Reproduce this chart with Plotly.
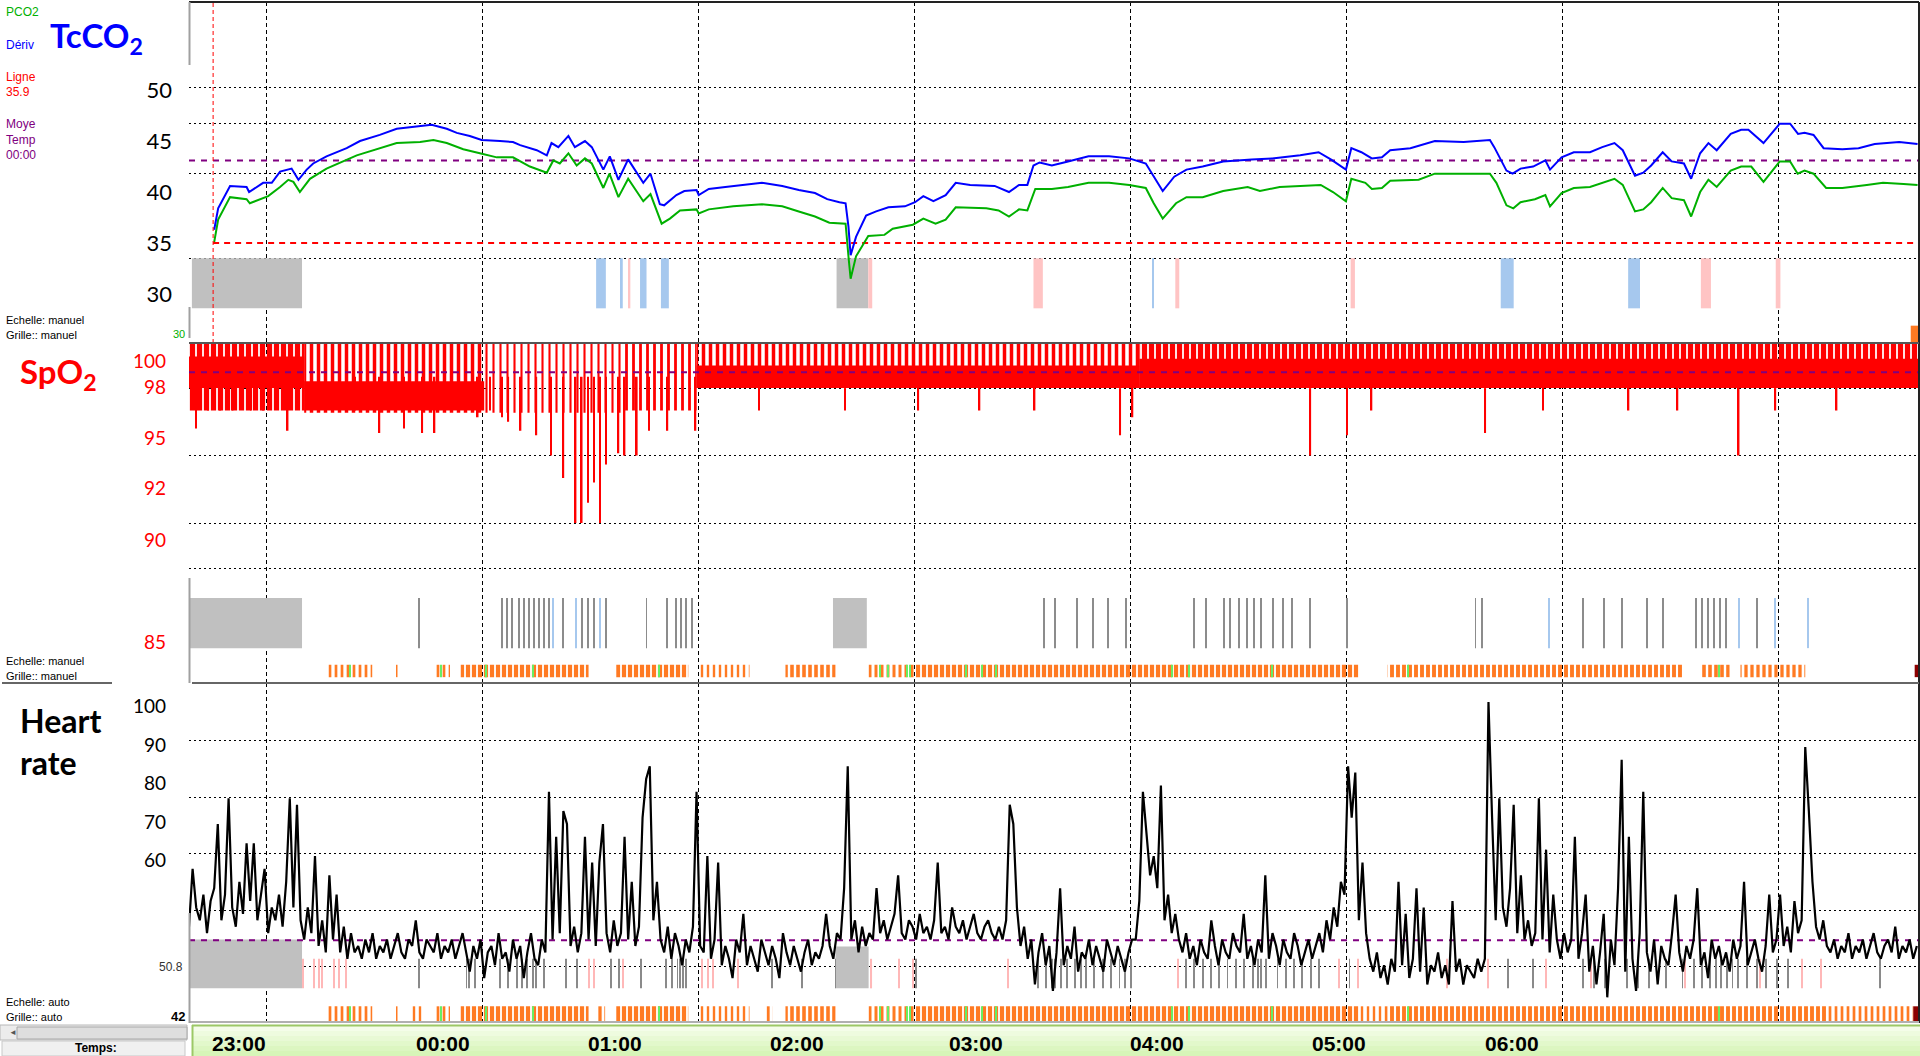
import pandas as pd
import plotly.graph_objects as go

START = pd.Timestamp('2020-01-01 22:38:20')
END_MIN = 480.6

# TcCO2 panel (mmHg), minutes since start of recording
tc_blue_min = [7.0, 8.1, 11.4, 16.0, 16.7, 20.6, 23.0, 25.3, 28.5, 30.4,
               32.7, 34.5, 38.2, 43.8, 47.5, 53.0, 57.7, 62.3, 67.4, 71.6,
               74.4, 78.0, 81.3, 86.4, 90.0, 92.0, 96.6, 99.4, 100.7, 102.6,
               105.4, 107.2, 110.0, 111.9, 115.1, 116.9, 119.3, 122.0, 126.2, 128.2,
               130.8, 132.0, 135.4, 137.6, 141.0, 141.6, 144.4, 149.0, 153.5, 159.2,
               164.8, 169.4, 173.9, 177.3, 180.7, 182.4, 183.2, 183.8, 185.3, 188.1,
               190.9, 194.3, 198.9, 201.7, 204.0, 206.8, 210.2, 213.0, 217.0, 223.8,
               227.8, 230.6, 232.9, 234.6, 236.3, 239.7, 244.2, 249.9, 255.6, 261.2,
               265.8, 268.0, 270.5, 273.7, 277.1, 281.6, 287.3, 295.2, 300.9, 308.7,
               313.8, 317.2, 320.0, 321.4, 322.9, 325.7, 328.6, 331.4, 333.7, 339.3,
               346.1, 354.1, 361.4, 362.6, 366.0, 367.7, 369.9, 373.4, 376.8, 378.1,
               381.3, 384.7, 389.2, 392.6, 396.0, 398.3, 401.7, 404.0, 406.2, 409.4,
               411.9, 415.3, 417.3, 419.8, 422.1, 424.4, 428.3, 431.2, 433.2, 437.4,
               441.9, 444.8, 447.0, 448.8, 451.3, 454.1, 459.3, 463.8, 468.3, 475.1,
               480.2]
tc_blue = [36.3, 38.4, 40.6, 40.5, 40.0, 40.9, 40.9, 42.0, 42.3, 41.2,
           42.2, 42.8, 43.5, 44.3, 45.0, 45.6, 46.2, 46.4, 46.6, 46.2,
           45.8, 45.5, 45.1, 45.0, 44.9, 44.6, 44.1, 43.6, 44.8, 44.4,
           45.5, 44.4, 45.0, 44.4, 42.2, 43.5, 41.2, 43.2, 40.9, 41.8,
           38.8, 38.7, 39.7, 40.1, 40.2, 39.7, 40.3, 40.5, 40.7, 40.9,
           40.6, 40.2, 39.9, 39.3, 39.0, 38.9, 36.6, 33.8, 35.6, 37.7,
           38.1, 38.5, 38.6, 39.0, 39.6, 39.1, 39.7, 40.9, 40.7, 40.6,
           40.0, 40.7, 40.7, 42.6, 42.9, 42.6, 43.0, 43.5, 43.5, 43.3,
           42.8, 41.5, 40.1, 41.5, 42.2, 42.5, 43.0, 43.2, 43.3, 43.6,
           43.9, 43.2, 42.5, 42.2, 44.3, 43.9, 43.3, 43.4, 44.1, 44.3,
           45.0, 44.9, 45.1, 44.4, 42.1, 41.8, 42.3, 42.5, 43.1, 42.2,
           43.4, 43.9, 43.9, 44.4, 44.8, 44.1, 41.6, 41.9, 42.6, 43.9,
           43.0, 42.8, 41.3, 43.8, 44.8, 44.1, 45.7, 46.1, 46.1, 44.8,
           46.7, 46.7, 45.7, 45.8, 45.6, 44.3, 44.2, 44.3, 44.7, 44.9,
           44.7]
tc_green_min = [7.0, 8.1, 11.4, 16.0, 16.9, 22.0, 25.3, 27.6, 29.0, 30.8,
                33.6, 38.2, 46.6, 53.0, 57.7, 64.2, 67.9, 71.6, 76.2, 80.8,
                85.5, 90.0, 94.7, 99.4, 101.2, 103.0, 105.4, 107.7, 110.0, 111.9,
                115.1, 116.8, 119.3, 122.0, 126.2, 128.2, 131.3, 133.6, 136.4, 141.0,
                141.6, 144.4, 151.2, 159.2, 164.8, 169.4, 173.9, 177.9, 182.4, 183.2,
                183.8, 185.3, 188.7, 193.2, 195.5, 201.1, 204.0, 207.4, 210.2, 213.0,
                221.5, 224.9, 227.8, 230.6, 232.9, 235.1, 239.7, 244.2, 249.9, 255.6,
                261.2, 265.8, 268.0, 270.5, 274.2, 277.1, 281.6, 287.3, 294.1, 297.5,
                303.0, 314.4, 317.8, 321.4, 322.9, 326.8, 328.6, 331.4, 333.7, 341.6,
                346.1, 361.4, 363.2, 366.0, 367.9, 369.9, 373.9, 376.8, 378.1, 381.3,
                384.7, 389.2, 392.6, 396.0, 398.3, 401.7, 404.0, 406.2, 409.4, 411.9,
                415.3, 417.3, 419.8, 422.1, 424.4, 428.3, 431.2, 434.0, 437.4, 441.9,
                444.8, 446.9, 448.8, 451.3, 454.8, 459.3, 466.1, 470.6, 476.3, 480.2]
tc_green = [35.1, 37.3, 39.5, 39.3, 38.9, 39.6, 40.5, 41.2, 41.0, 40.0,
            41.3, 42.3, 43.6, 44.3, 44.8, 44.9, 45.1, 44.8, 44.2, 43.8,
            43.4, 43.4, 42.5, 41.9, 43.1, 42.8, 43.8, 42.6, 43.3, 42.8,
            40.4, 41.8, 39.5, 41.3, 39.1, 39.8, 36.9, 37.4, 38.2, 38.3,
            37.9, 38.3, 38.6, 38.8, 38.6, 38.1, 37.6, 37.0, 36.9, 33.7,
            31.5, 33.7, 35.7, 35.8, 36.4, 36.8, 37.4, 36.9, 37.3, 38.5,
            38.4, 38.2, 37.6, 38.3, 38.2, 40.3, 40.3, 40.5, 40.9, 40.9,
            40.7, 40.4, 38.9, 37.4, 38.9, 39.5, 39.5, 40.1, 40.5, 40.1,
            40.5, 40.7, 40.0, 39.1, 41.3, 40.9, 40.3, 40.4, 41.1, 41.2,
            41.8, 41.8, 40.9, 38.7, 38.4, 39.0, 39.3, 39.7, 38.6, 39.9,
            40.4, 40.5, 40.9, 41.3, 40.7, 38.1, 38.3, 39.0, 40.4, 39.4,
            39.2, 37.6, 40.0, 41.2, 40.5, 42.1, 42.5, 42.5, 41.0, 43.0,
            43.0, 41.8, 42.1, 41.8, 40.4, 40.4, 40.7, 40.9, 40.8, 40.7]
tc_line = 35.0
tc_mean = 43.1
tc_start_min = 6.7
tc_ticks = [30, 35, 40, 45, 50]
tc_grid = [33.53, 41.86, 46.76, 50.2]

# TcCO2 event strip
tc_evt_start = [0.8, 113.1, 120.0, 122.2, 125.3, 131.1, 179.9, 188.7, 234.6, 267.6, 274.0, 322.7, 364.4, 399.8, 420.0, 440.8]
tc_evt_end = [31.4, 115.8, 120.5, 122.6, 127.1, 133.3, 188.7, 189.8, 237.2, 268.0, 275.1, 323.9, 368.0, 403.1, 422.8, 442.1]
tc_evt_kind = ['gris', 'bleu', 'bleu', 'rose', 'bleu', 'bleu', 'gris', 'rose', 'rose', 'bleu', 'rose', 'rose', 'bleu', 'bleu', 'rose', 'rose']

# SpO2 panel (%): envelope per segment, solid core + striped upper part
spo2_seg_start = [0.0, 32.0, 82.0, 121.0, 141.0, 264.0]
spo2_seg_end = [32.0, 82.0, 121.0, 141.0, 264.0, 480.6]
spo2_core_lo = [98.0, 97.0, 97.0, 98.0, 98.0, 98.0]
spo2_core_hi = [99.4, 98.3, 97.0, 98.0, 99.0, 99.3]
spo2_stripe_lo = [97.0, 96.9, 96.9, 97.0, 98.0, 98.0]
spo2_stripe_hi = [100.0, 100.0, 100.0, 100.0, 100.0, 100.0]
spo2_stripe_fill = [0.75, 0.5, 0.3, 0.4, 0.5, 0.75]
spo2_dip_min = [1.9, 5.3, 8.7, 12.1, 17.2, 20.6, 27.4, 46.1, 52.9, 59.7,
                64.8, 68.2, 76.8, 80.2, 83.6, 87.0, 88.7, 92.1, 96.5, 100.6,
                104.0, 107.4, 109.1, 110.8, 112.5, 114.2, 115.9, 119.3, 121.0, 124.4,
                127.8, 132.9, 140.7, 158.4, 182.2, 202.6, 219.6, 234.9, 258.7, 262.1,
                311.5, 321.7, 328.5, 360.1, 376.1, 399.9, 413.5, 430.5, 440.7, 457.7]
spo2_dip = [96.2, 97.0, 97.0, 97.0, 97.0, 97.0, 96.1, 97.0, 96.0, 96.2,
            96.0, 96.0, 97.0, 96.7, 97.0, 96.7, 96.5, 96.1, 95.9, 95.0,
            94.0, 92.0, 92.0, 92.9, 93.8, 92.0, 94.6, 95.1, 95.0, 95.0,
            96.1, 96.1, 96.1, 97.0, 97.0, 97.0, 97.0, 97.0, 95.9, 96.7,
            95.0, 95.9, 97.0, 96.0, 97.0, 97.0, 97.0, 95.0, 97.0, 97.0]
spo2_mean = 98.7
spo2_tick_pos = [99.2, 98.04, 95.78, 93.56, 91.24, 86.7]
spo2_tick_text = ['100', '98', '95', '92', '90', '85']
spo2_grid = [98, 95, 92, 90]

# SpO2 event strip
spo2_gap_start = [0.0, 178.9]
spo2_gap_end = [31.4, 188.3]
spo2_mark_gray = [63.8, 87.0, 88.3, 89.7, 91.7, 93.1, 94.4, 95.8, 97.2, 98.5, 99.9, 104.0, 109.1, 110.8, 112.5,
                  115.9, 127.1, 132.9, 135.3, 136.6, 138.0, 139.7, 237.6, 240.7, 246.8, 251.2, 255.3, 260.4,
                  279.1, 282.5, 287.6, 289.3, 291.7, 293.8, 295.8, 297.8, 301.2, 304.0, 306.3, 311.4, 321.7,
                  357.4, 359.1, 387.3, 393.1, 398.2, 405.0, 409.4, 418.6, 420.3, 422.0, 423.7, 425.4, 427.1, 435.6]
spo2_mark_blue = [101.2, 107.4, 114.2, 377.8, 430.5, 440.7, 449.9]
spo2_run_start = [38.7, 57.5, 68.5, 75.5, 118.7, 141.5, 165.7, 188.8, 201.9, 239.2, 333.0, 420.0, 431.0]
spo2_run_end = [50.9, 58.2, 72.5, 111.0, 138.7, 155.7, 179.6, 201.9, 239.2, 325.0, 415.0, 428.0, 449.0]
spo2_run_fill = [0.45, 0.5, 0.45, 0.7, 0.7, 0.4, 0.6, 0.5, 0.7, 0.7, 0.65, 0.6, 0.55]

# Heart rate (bpm), one value per minute
hr_bpm = [
    57, 66, 60, 58, 62, 56, 61, 63, 73, 58, 62, 77, 60, 57, 64, 59, 70, 61, 70, 58,
    62, 66, 56, 60, 58, 62, 57, 64, 77, 60, 76,
    58, 55, 60, 56, 68, 54, 58, 53, 65, 55, 62, 53, 57, 52, 56, 53,
    54, 52, 55, 53, 56, 52, 54, 53, 55, 52, 54, 56, 53, 52, 55, 54, 58, 53, 52, 55,
    54, 53, 56, 52, 54, 53, 55, 52, 54, 56, 53,
    50, 54, 52, 55, 49, 53, 54, 51, 56, 52, 53, 50, 55, 52, 54, 49, 53, 56, 52, 51, 55, 53,
    78, 55, 71, 56, 75, 73, 54, 57, 53, 56, 71, 55, 67, 54, 67, 73, 56, 53, 58, 54,
    56, 71, 55, 64, 54, 57, 74, 80, 82, 58, 64,
    55, 53, 57, 52, 56, 54, 51, 55, 53, 57, 78, 54,
    53, 68, 52, 55, 67, 51, 54, 52, 49, 55, 53, 59, 51, 54, 52, 50, 55, 53, 51, 54,
    52, 49, 56, 53, 51, 54, 52, 50, 53, 55, 51, 53, 52, 54,
    59, 54, 52, 56, 55, 63, 82, 55, 58, 53, 57, 54, 56, 55,
    63, 56, 58, 55, 57, 59, 65, 56, 55, 58, 57, 55, 59, 56, 57, 55, 58, 67, 56, 57,
    55, 60, 57, 56, 58, 55, 57, 59, 56, 55, 57, 58, 56, 55, 57,
    55, 58, 76, 73, 60, 54, 57, 52, 55, 48, 53, 56, 51, 54, 47, 53, 63,
    51, 54, 52, 57, 50, 53, 52, 55, 51, 54, 52, 50, 55, 53, 51, 54, 52, 50, 53, 55,
    55, 61, 78, 72, 65, 68, 63, 79, 58, 62, 56, 59, 55,
    53, 56, 52, 54, 51, 55, 53, 52, 58, 54, 51, 55, 53, 52, 56, 54, 53, 59, 52, 54,
    51, 55, 53, 65, 52, 56, 54, 51, 55, 53, 52, 56, 54, 51, 53, 55, 52, 54, 56, 53,
    58, 55, 60, 57, 64, 62, 82, 74, 81, 58, 67,
    56, 52, 50, 53, 49, 51, 48, 52, 50, 64, 51, 59, 49, 52, 63, 50, 60, 48, 51, 50,
    53, 49, 51, 48, 61, 50, 52, 48, 51, 50, 49, 52, 50,
    52, 92, 74, 58, 77, 60, 57, 63, 76, 56, 65, 55, 58,
    54, 56, 77, 55, 69, 53, 62, 55, 52, 56, 53,
    55, 71, 52, 56, 62, 50, 54, 48, 53, 59, 46, 55, 51, 63, 83, 50, 71, 52, 47, 56,
    78, 53, 50, 55, 48, 54, 52, 51, 56, 62, 53, 50, 54, 52, 55, 63, 51, 53, 49, 55,
    52, 54, 51, 53, 50, 55, 52, 54, 64, 51, 53, 55, 52, 50, 54, 62, 53,
    55, 62, 54, 57, 53, 61, 56, 58, 85, 75, 64, 57, 55, 58, 54,
    53, 55, 52, 54, 53, 56, 52, 54, 53, 55, 52, 54, 56, 53, 52, 54, 55, 53, 57, 52,
    54, 53, 55, 52, 54,
]
hr_mean = 54.9
hr_tick_pos = [91.4, 85.3, 79.4, 73.3, 67.4]
hr_tick_text = ['100', '90', '80', '70', '60']
hr_grid = [50.8, 59.6, 68.4, 77.2, 86.0]

# Heart rate event strip
hr_gap_start = [0.0, 179.6]
hr_gap_end = [31.4, 188.8]
hr_gap_top = [55.0, 53.9]
hr_art_gray = [64.0, 77.1, 77.8, 79.4, 86.3, 88.6, 91.0, 92.5, 94.0, 95.6, 96.3, 98.7, 104.8, 107.9, 117.2,
               119.5, 125.6, 132.6, 134.1, 135.7, 136.4, 137.2, 138.0, 161.9, 170.3, 179.6, 201.9, 235.9,
               238.2, 239.7, 240.7, 242.3, 243.8, 246.1, 247.7, 249.2, 251.5, 253.8, 256.2, 258.5, 260.0,
               261.6, 277.0, 279.3, 281.6, 283.9, 286.2, 288.5, 290.8, 293.2, 295.5, 297.0, 297.8, 299.3,
               302.4, 304.7, 307.0, 309.3, 311.7, 314.0, 322.4, 366.4, 373.3, 387.2, 390.3, 393.4, 399.5,
               402.6, 405.7, 410.3, 414.9, 418.0, 420.3, 422.6, 424.2, 425.7, 427.3, 428.8, 430.4, 432.7,
               435.7, 438.1, 441.1, 444.2, 469.7]
hr_art_pink = [31.6, 34.7, 36.2, 37.0, 40.4, 41.6, 43.5, 111.0, 112.5, 120.5, 142.6, 144.1, 145.7, 152.6,
               189.6, 197.3, 201.2, 227.4, 274.7, 319.4, 324.8, 349.4, 361.0, 376.9, 389.5, 415.7, 436.5,
               448.1, 453.5]
hr_run_start = [38.5, 57.5, 61.5, 68.5, 75.5, 113.3, 118.7, 141.5, 160.5, 165.7, 188.8, 201.9, 239.2, 325.0, 333.0, 455.0]
hr_run_end = [50.9, 58.2, 64.7, 72.5, 111.0, 115.6, 138.7, 155.7, 162.0, 179.6, 201.9, 239.2, 325.0, 333.0, 455.0, 479.0]
hr_run_fill = [0.45, 0.5, 0.4, 0.45, 0.7, 0.55, 0.7, 0.4, 0.55, 0.6, 0.5, 0.7, 0.7, 0.4, 0.65, 0.45]
green_marks = [44.7, 70.0, 82.5, 95.6, 130.5, 192.0, 194.3, 199.6, 200.4, 215.8, 220.4, 224.2, 273.1, 277.7, 300.9, 338.6, 425.0]

# time labels of the bottom band
time_labels = ['23:00', '00:00', '01:00', '02:00', '03:00', '04:00', '05:00', '06:00']
time_label_min = [13.8, 70.5, 118.3, 169.0, 218.5, 268.9, 319.6, 367.4]

EVENT_COLORS = {'gris': '#c0c0c0', 'bleu': '#a6c8ee', 'rose': '#ffc4c4'}
ORANGE = '#ff7a22'


def at(minutes):
    return [START + pd.Timedelta(minutes=float(m)) for m in minutes]


def band(starts, ends, lo, hi, color, yaxis, pattern=None, min_width=0.0):
    # vertical bars covering [start, end] in time and [lo, hi] in value
    n = len(starts)
    lo = lo if isinstance(lo, list) else [lo] * n
    hi = hi if isinstance(hi, list) else [hi] * n
    mids = [(a + b) / 2 for a, b in zip(starts, ends)]
    widths = [max(b - a, min_width) * 60000 for a, b in zip(starts, ends)]
    marker = dict(color=color, line=dict(width=0))
    if pattern is not None:
        marker['pattern'] = pattern
    return go.Bar(x=at(mids), y=[h - l for l, h in zip(lo, hi)], base=lo, width=widths,
                  marker=marker, yaxis=yaxis, hoverinfo='skip')


def ticks(positions, lo, hi, color, yaxis, w=0.35):
    return band([p - w / 2 for p in positions], [p + w / 2 for p in positions], lo, hi, color, yaxis)


def stripes(fill, color=ORANGE, size=6):
    return dict(shape='|', fgcolor=color, fgopacity=1, bgcolor='rgba(0,0,0,0)', size=size, solidity=fill)


fig = go.Figure()

# ---- TcCO2 ----
for kind in ['gris', 'bleu', 'rose']:
    idx = [i for i, k in enumerate(tc_evt_kind) if k == kind]
    fig.add_trace(band([tc_evt_start[i] for i in idx], [tc_evt_end[i] for i in idx],
                       28.6, 33.5, EVENT_COLORS[kind], 'y', min_width=0.3))
fig.add_trace(band([478.3], [END_MIN], 25.3, 26.9, ORANGE, 'y'))
fig.add_trace(go.Scatter(x=at([tc_start_min, 479.0]), y=[tc_line, tc_line], mode='lines',
                         line=dict(color='#ff0000', width=2, dash='6px,5px'), yaxis='y', hoverinfo='skip'))
fig.add_trace(go.Scatter(x=at([0, END_MIN]), y=[tc_mean, tc_mean], mode='lines',
                         line=dict(color='#800080', width=2, dash='6px,6px'), yaxis='y', hoverinfo='skip'))
fig.add_trace(go.Scatter(x=at(tc_green_min), y=tc_green, mode='lines',
                         line=dict(color='#00b000', width=2), yaxis='y', name='PCO2'))
fig.add_trace(go.Scatter(x=at(tc_blue_min), y=tc_blue, mode='lines',
                         line=dict(color='#0000ff', width=2), yaxis='y', name='Dérive'))

# ---- SpO2 ----
fig.add_trace(band(spo2_gap_start, spo2_gap_end, 86.44, 88.67, '#c0c0c0', 'y2'))
fig.add_trace(ticks(spo2_mark_gray, 86.44, 88.67, '#8c8c8c', 'y2', w=0.25))
fig.add_trace(ticks(spo2_mark_blue, 86.44, 88.67, '#a6c8ee', 'y2', w=0.3))
fig.add_trace(band(spo2_run_start, spo2_run_end, 85.15, 85.7, ORANGE, 'y2', pattern=stripes(spo2_run_fill)))
fig.add_trace(ticks(green_marks, 85.15, 85.7, '#66ee66', 'y2', w=0.3))
fig.add_trace(band([479.4], [END_MIN], 85.15, 85.7, '#8b0000', 'y2'))
fig.add_trace(band(spo2_seg_start, spo2_seg_end, spo2_stripe_lo, spo2_stripe_hi, '#ff0000', 'y2',
                   pattern=stripes(spo2_stripe_fill, '#ff0000', 7)))
fig.add_trace(band(spo2_seg_start, spo2_seg_end, spo2_core_lo, spo2_core_hi, '#ff0000', 'y2'))
fig.add_trace(ticks(spo2_dip_min, spo2_dip, 98.5, '#ff0000', 'y2', w=0.45))
fig.add_trace(go.Scatter(x=at([0, END_MIN]), y=[spo2_mean, spo2_mean], mode='lines',
                         line=dict(color='#800080', width=2, dash='6px,6px'), yaxis='y2', hoverinfo='skip'))

# ---- Heart rate ----
fig.add_trace(band(hr_gap_start, hr_gap_end, 47.4, hr_gap_top, '#c0c0c0', 'y3'))
fig.add_trace(ticks(hr_art_gray, 47.4, 52.0, '#8a8a8a', 'y3', w=0.25))
fig.add_trace(ticks(hr_art_pink, 47.4, 52.0, '#ffb8b8', 'y3', w=0.3))
fig.add_trace(band(hr_run_start, hr_run_end, 42.3, 44.6, ORANGE, 'y3', pattern=stripes(hr_run_fill)))
fig.add_trace(ticks(green_marks, 42.3, 44.6, '#66ee66', 'y3', w=0.3))
fig.add_trace(band([479.0], [END_MIN], 42.3, 44.6, '#8b0000', 'y3'))
fig.add_trace(go.Scatter(x=at([0, END_MIN]), y=[hr_mean, hr_mean], mode='lines',
                         line=dict(color='#800080', width=2, dash='6px,6px'), yaxis='y3', hoverinfo='skip'))
fig.add_trace(go.Scatter(x=at(range(len(hr_bpm))), y=hr_bpm, mode='lines',
                         line=dict(color='black', width=2.2), yaxis='y3', name='HR'))

# ---- axes ----
dotted = dict(showgrid=True, gridcolor='black', gridwidth=1, griddash='2px,3px', ticks='')
yaxis_common = dict(showgrid=False, zeroline=False, showline=False, ticks='', fixedrange=True)
fig.update_layout(
    width=1920, height=1056,
    margin=dict(l=189, r=1, t=2, b=33),
    paper_bgcolor='white', plot_bgcolor='white',
    showlegend=False, barmode='overlay',
    xaxis=dict(type='date', range=at([0, END_MIN]), showgrid=True, gridcolor='black', gridwidth=1,
               griddash='4px,3px', tick0='2020-01-01 23:00', dtick=3600000,
               showticklabels=False, ticks='', zeroline=False, showline=False, fixedrange=True),
    yaxis=dict(domain=[0.666, 1.0], range=[25.2, 58.63], tickvals=tc_ticks, ticklabelstandoff=16,
               tickfont=dict(family='Lato', size=22, color='black'),
               minor=dict(tickvals=tc_grid, **dotted), **yaxis_common),
    yaxis2=dict(domain=[0.333, 0.666], range=[84.89, 100.0], tickvals=spo2_tick_pos, ticktext=spo2_tick_text,
                ticklabelstandoff=22, tickfont=dict(family='Lato', size=19, color='#ff0000'),
                minor=dict(tickvals=spo2_grid, **dotted), **yaxis_common),
    yaxis3=dict(domain=[0.0, 0.333], range=[42.0, 94.96], tickvals=hr_tick_pos, ticktext=hr_tick_text,
                ticklabelstandoff=22, tickfont=dict(family='Lato', size=19, color='black'),
                minor=dict(tickvals=hr_grid, **dotted), **yaxis_common),
)


# ---- frame, side panel and time band (pixel positions of the screenshot) ----
def px(x):
    return (x - 189) / 1730.0


def py(y):
    return (1023 - y) / 1021.0


shapes = []


def line(x0, y0, x1, y1, color, width):
    shapes.append(dict(type='line', xref='paper', yref='paper', x0=px(x0), y0=py(y0), x1=px(x1), y1=py(y1),
                       line=dict(color=color, width=width)))


def rect(x0, y0, x1, y1, fill, border=None):
    shapes.append(dict(type='rect', xref='paper', yref='paper', x0=px(x0), y0=py(y0), x1=px(x1), y1=py(y1),
                       fillcolor=fill, line=dict(color=border or fill, width=1 if border else 0), layer='above'))


# red start marker in the TcCO2 panel
shapes.append(dict(type='line', xref='x', yref='y domain', x0=at([tc_start_min])[0], x1=at([tc_start_min])[0],
                   y0=0, y1=1, line=dict(color='#ff0000', width=1, dash='4px,3px')))
line(189, 2, 1919, 2, '#222', 2)
line(1919, 2, 1919, 1023, '#222', 2)
line(189, 343, 1919, 343, '#555', 2)
line(192, 683, 1919, 683, '#666', 2)
line(2, 683, 112, 683, '#666', 2)
line(189, 1022, 1919, 1022, '#b0b0b0', 2)
for y0, y1 in [(2, 65), (307, 338), (578, 683), (913, 1023)]:
    line(189.5, y0, 189.5, y1, '#a0a0a0', 2)

# time band with a light green gradient
greens = ['#f4fde9', '#eefbdf', '#e8f9d5', '#e2f8cb', '#dcf6c1', '#d7f5b8']
for i, c in enumerate(greens):
    rect(192, 1026 + i * 5, 1920, 1031 + i * 5 + 1, c)
line(192, 1025.5, 1920, 1025.5, '#9cc866', 2)
line(192.5, 1025, 192.5, 1056, '#9cc866', 2)
# scrollbar and "Temps:" box
rect(0, 1025, 187, 1040, '#ececec', '#b8b8b8')
rect(17, 1027, 187, 1039, '#dedede', '#a8a8a8')
rect(2, 1041, 185, 1056, '#f0f0f0', '#c8c8c8')

annotations = []


def text(s, x, y, color='black', size=11, anchor='left', family='Liberation Sans', bold=False):
    annotations.append(dict(text='<b>%s</b>' % s if bold else s, xref='paper', yref='paper', x=px(x), y=py(y),
                            xanchor=anchor, yanchor='middle', showarrow=False, align='left',
                            font=dict(family=family, size=size, color=color)))


text('PCO2', 4, 12, '#00b000', 12)
text('Dériv', 4, 45, '#0000ff', 12)
text('Ligne', 4, 77, '#ff0000', 12)
text('35.9', 4, 92, '#ff0000', 12)
text('Moye', 4, 124, '#800080', 12)
text('Temp', 4, 140, '#800080', 12)
text('00:00', 4, 155, '#800080', 12)
text('Echelle: manuel', 4, 320)
text('Grille:: manuel', 4, 335)
text('30', 187, 334, '#00b000', anchor='right')
text('Echelle: manuel', 4, 661)
text('Grille:: manuel', 4, 676)
text('Echelle: auto', 4, 1002)
text('Grille:: auto', 4, 1017)
text('50.8', 185, 967, '#333', 12, anchor='right')
text('42', 187, 1016, 'black', 13, anchor='right', bold=True)
text('◄', 7, 1032, '#555', 8)
text('Temps:', 96, 1048, 'black', 12, anchor='center', bold=True)
text('TcCO<sub>2</sub>', 48, 37, '#0000ff', 33, family='Lato', bold=True)
text('SpO<sub>2</sub>', 18, 374, '#ff0000', 33, family='Lato', bold=True)
text('Heart<br>rate', 18, 741, 'black', 32, family='Lato', bold=True)

for label, m in zip(time_labels, time_label_min):
    annotations.append(dict(text='<b>%s</b>' % label, xref='x', yref='paper', x=at([m])[0], y=py(1043),
                            xanchor='center', yanchor='middle', showarrow=False,
                            font=dict(family='Liberation Sans', size=21, color='black')))

fig.update_layout(shapes=shapes, annotations=annotations)
# the page margin would shift the screenshot by 8 px
fig.write_html('out.html', config={'displayModeBar': False},
               post_script="document.body.style.margin='0';")
